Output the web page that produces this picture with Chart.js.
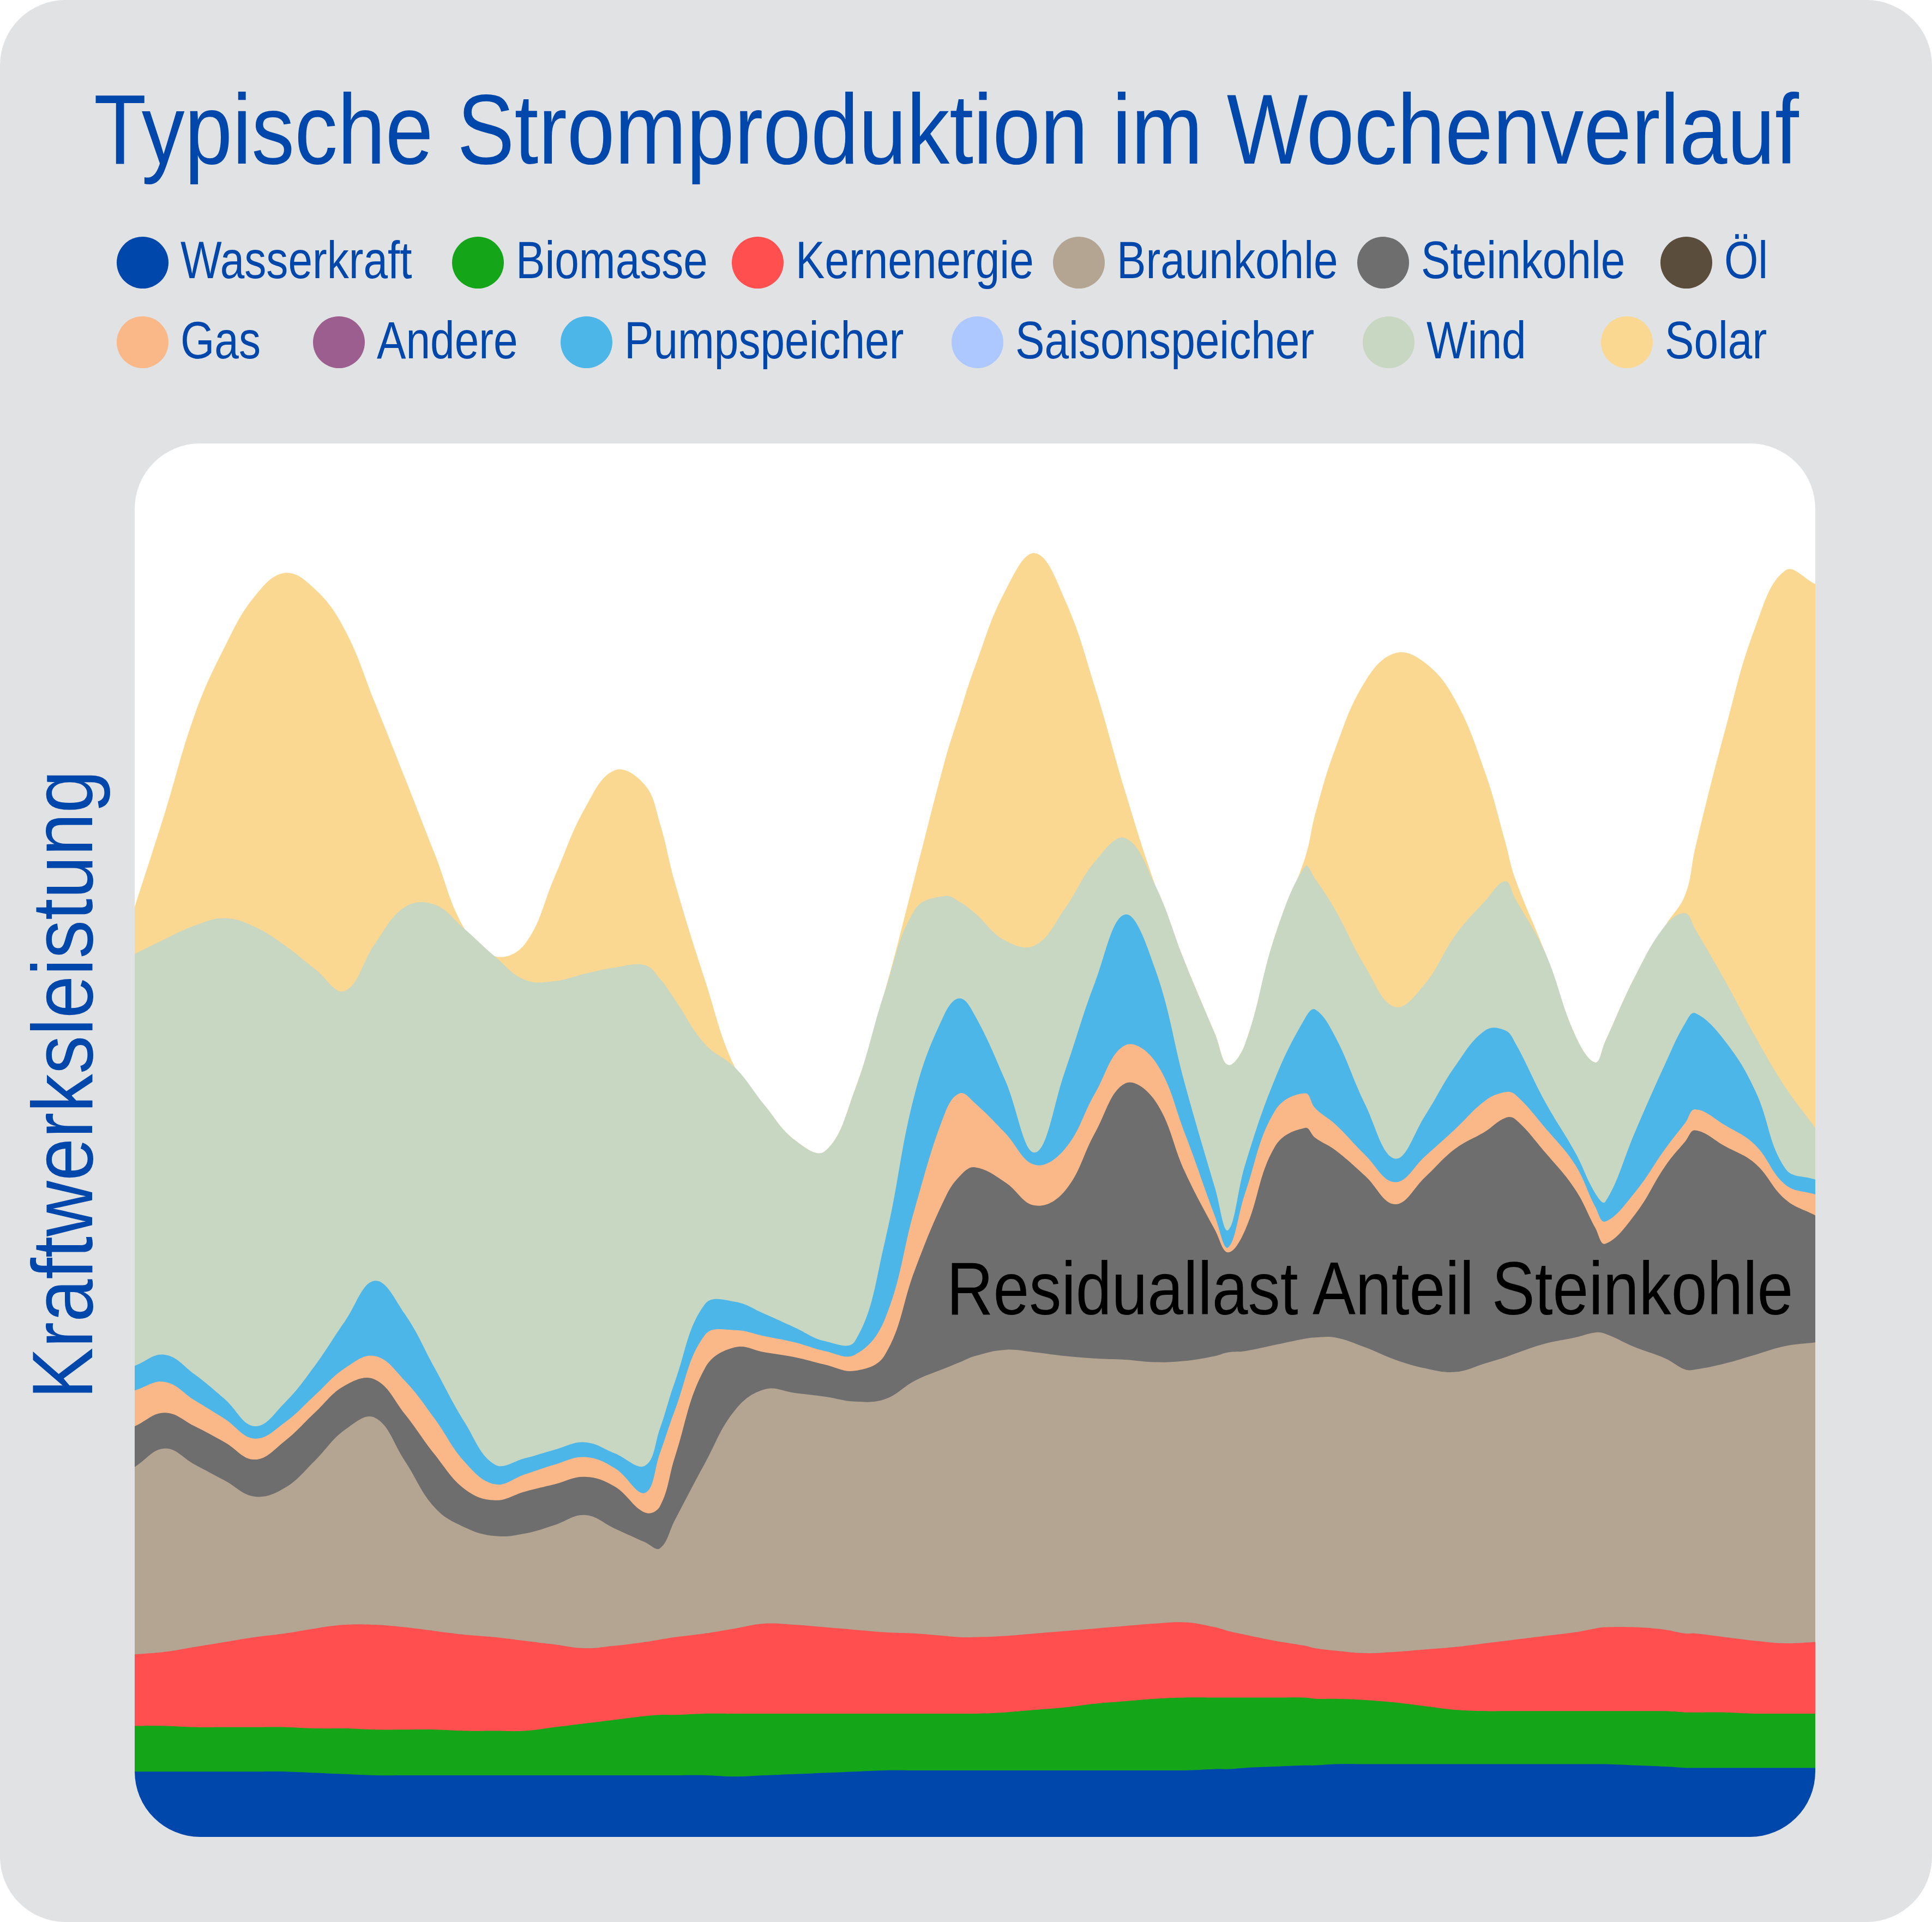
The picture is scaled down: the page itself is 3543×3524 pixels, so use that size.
<!DOCTYPE html>
<html>
<head>
<meta charset="utf-8">
<title>Typische Stromproduktion im Wochenverlauf</title>
<script src="https://cdn.jsdelivr.net/npm/chart.js@4.4.1/dist/chart.umd.min.js"></script>
<style>
  html, body { margin: 0; padding: 0; background: #ffffff; }
  #page {
    position: relative; width: 3543px; height: 3524px; overflow: hidden;
    background: #e1e2e4; border-radius: 120px;
    font-family: "Liberation Sans", Arial, sans-serif; color: #0047ab;
  }
  .txt { position: absolute; white-space: nowrap; line-height: 1; transform-origin: 0 0; }
  #title { left: 172px; top: 146px; font-size: 182px; }
  #ylabel { left: 36px; top: 2565px; font-size: 157px; }
  #panel {
    position: absolute; left: 247px; top: 813px; width: 3082px; height: 2555px;
    background: #ffffff; border-radius: 120px; overflow: hidden;
  }
  #note { left: 1736px; top: 2293px; font-size: 138px; color: #000000; }
  .dot { position: absolute; width: 95px; height: 95px; border-radius: 50%; }
  .lbl { font-size: 96px; transform: scaleX(0.835); }
</style>
</head>
<body>
<div id="page">
  <div id="title" class="txt">Typische Stromproduktion im Wochenverlauf</div>
  <div id="legend"></div>
  <div id="ylabel" class="txt">Kraftwerksleistung</div>
  <div id="panel"><canvas id="myChart"></canvas></div>
  <div id="note" class="txt">Residuallast Anteil Steinkohle</div>
</div>
<script>
// hour of the week for every sample
var hours = [0, 3, 6, 9, 12, 15, 18, 21, 24, 27,
  30, 33, 36, 39, 42, 45, 48, 51, 52.5, 54,
  57, 60, 63, 66, 69, 72, 75, 78, 81, 82.5,
  84, 87, 90, 93, 96, 99, 102, 105, 108, 109.3,
  111, 114, 117, 118, 120, 123, 126, 129, 132, 135,
  137, 138, 141, 144, 146, 147, 150, 153, 155, 156,
  159, 162, 165, 168];

// power per source (stacked from the bottom)
var wasserkraft = [5.3, 5.3, 5.3, 5.3, 5.3, 5.3, 5.2, 5.1, 5.0, 5.0,
  5.0, 5.0, 5.0, 5.0, 5.0, 5.0, 5.0, 5.0, 5.0, 5.0,
  5.0, 4.9, 5.0, 5.1, 5.2, 5.3, 5.4, 5.4, 5.4, 5.4,
  5.4, 5.4, 5.4, 5.4, 5.4, 5.4, 5.4, 5.4, 5.5, 5.5,
  5.6, 5.7, 5.8, 5.8, 5.9, 5.9, 5.9, 5.9, 5.9, 5.9,
  5.9, 5.9, 5.9, 5.9, 5.9, 5.9, 5.8, 5.7, 5.6, 5.6,
  5.6, 5.6, 5.6, 5.6];
var biomasse = [3.7, 3.7, 3.6, 3.6, 3.6, 3.6, 3.6, 3.7, 3.7, 3.7,
  3.7, 3.6, 3.6, 3.6, 3.9, 4.2, 4.5, 4.8, 4.9, 4.9,
  5.0, 5.1, 5.0, 4.9, 4.8, 4.7, 4.6, 4.6, 4.6, 4.6,
  4.6, 4.7, 4.9, 5.1, 5.4, 5.6, 5.8, 5.9, 5.8, 5.8,
  5.7, 5.6, 5.5, 5.4, 5.3, 5.2, 5.0, 4.7, 4.4, 4.3,
  4.3, 4.3, 4.3, 4.3, 4.3, 4.3, 4.4, 4.5, 4.5, 4.5,
  4.5, 4.4, 4.4, 4.4];
var kernenergie = [5.8, 6.0, 6.5, 6.9, 7.3, 7.6, 8.1, 8.4, 8.5, 8.3,
  8.0, 7.8, 7.6, 7.3, 6.7, 6.1, 6.0, 6.0, 6.1, 6.3,
  6.5, 6.9, 7.3, 7.2, 7.0, 6.8, 6.6, 6.5, 6.3, 6.2,
  6.2, 6.2, 6.2, 6.2, 6.1, 6.1, 6.1, 6.1, 5.7, 5.4,
  5.1, 4.6, 4.2, 4.1, 3.9, 3.8, 4.1, 4.6, 5.1, 5.5,
  5.7, 5.8, 6.1, 6.4, 6.7, 6.8, 6.8, 6.6, 6.4, 6.4,
  6.1, 5.9, 5.7, 5.8];
var braunkohle = [15.2, 16.5, 14.8, 13.1, 11.4, 11.8, 13.6, 15.8, 16.8, 13.5,
  10.0, 8.7, 8.2, 8.7, 9.7, 10.8, 9.5, 8.1, 7.4, 9.5,
  13.8, 17.7, 19.0, 18.8, 18.7, 18.5, 18.9, 20.5, 21.7, 22.3,
  22.8, 23.2, 22.8, 22.3, 21.9, 21.6, 21.2, 21.2, 22.0, 22.6,
  23.0, 24.0, 24.9, 25.2, 25.4, 24.8, 23.7, 22.8, 22.3, 22.7,
  23.0, 23.2, 23.7, 23.9, 24.0, 23.8, 22.7, 22.0, 21.4, 21.4,
  22.2, 23.2, 24.1, 24.3];
var steinkohle = [3.3, 2.9, 3.1, 3.1, 3.0, 3.8, 3.9, 3.6, 3.1, 3.8,
  4.3, 3.1, 2.9, 3.4, 3.3, 3.1, 3.4, 2.4, 3.4, 5.1,
  7.7, 5.1, 3.0, 2.9, 2.6, 2.5, 3.6, 9.0, 13.8, 15.1,
  15.3, 13.6, 11.9, 13.4, 18.3, 22.4, 21.2, 15.3, 10.2, 8.1,
  9.8, 16.1, 17.1, 16.2, 15.2, 13.9, 12.6, 15.5, 18.1, 18.8,
  19.4, 19.0, 15.5, 12.0, 8.5, 7.3, 10.8, 15.6, 18.5, 19.4,
  17.6, 15.5, 11.9, 10.3];
var oel = [0, 0, 0, 0, 0, 0, 0, 0, 0, 0,
  0, 0, 0, 0, 0, 0, 0, 0, 0, 0,
  0, 0, 0, 0, 0, 0, 0, 0, 0, 0,
  0, 0, 0, 0, 0, 0, 0, 0, 0, 0,
  0, 0, 0, 0, 0, 0, 0, 0, 0, 0,
  0, 0, 0, 0, 0, 0, 0, 0, 0, 0,
  0, 0, 0, 0];
var gas = [2.9, 2.5, 2.1, 1.9, 1.7, 1.5, 1.4, 1.4, 1.9, 2.7,
  2.9, 2.2, 1.3, 1.4, 1.6, 1.6, 1.5, 1.6, 4.3, 3.8,
  2.7, 1.4, 1.3, 1.2, 1.1, 1.3, 2.9, 5.0, 6.9, 6.7,
  5.2, 4.0, 3.3, 3.4, 3.2, 3.1, 3.2, 3.1, 1.1, 0.4,
  3.0, 2.9, 2.8, 2.4, 2.1, 1.7, 1.8, 1.7, 1.6, 2.5,
  2.1, 2.0, 2.0, 2.0, 1.7, 1.8, 1.8, 1.4, 1.5, 1.7,
  1.7, 1.5, 1.2, 1.7];
var andere = [0, 0, 0, 0, 0, 0, 0, 0, 0, 0,
  0, 0, 0, 0, 0, 0, 0, 0, 0, 0,
  0, 0, 0, 0, 0, 0, 0, 0, 0, 0,
  0, 0, 0, 0, 0, 0, 0, 0, 0, 0,
  0, 0, 0, 0, 0, 0, 0, 0, 0, 0,
  0, 0, 0, 0, 0, 0, 0, 0, 0, 0,
  0, 0, 0, 0];
var pumpspeicher = [2.0, 2.2, 2.1, 1.6, 1.0, 1.6, 2.4, 3.8, 6.1, 5.4,
  4.1, 3.2, 1.6, 1.3, 1.2, 1.2, 1.2, 2.2, 2.0, 2.3,
  2.5, 2.3, 1.8, 1.2, 0.8, 1.1, 6.3, 9.3, 8.1, 7.7,
  7.1, 4.3, 1.0, 6.3, 9.0, 10.6, 7.5, 4.0, 2.3, 1.4,
  2.3, 2.6, 6.1, 8.0, 7.1, 4.1, 1.9, 3.3, 5.1, 5.7,
  5.0, 4.2, 2.1, 1.0, 1.1, 1.6, 4.9, 6.9, 8.1, 7.8,
  6.8, 4.4, 1.3, 1.2];
var saisonspeicher = [0, 0, 0, 0, 0, 0, 0, 0, 0, 0,
  0, 0, 0, 0, 0, 0, 0, 0, 0, 0,
  0, 0, 0, 0, 0, 0, 0, 0, 0, 0,
  0, 0, 0, 0, 0, 0, 0, 0, 0, 0,
  0, 0, 0, 0, 0, 0, 0, 0, 0, 0,
  0, 0, 0, 0, 0, 0, 0, 0, 0, 0,
  0, 0, 0, 0];
var wind = [33.4, 33.7, 36.4, 39.0, 40.5, 37.1, 32.2, 26.8, 27.3, 33.0,
  37.6, 40.0, 41.2, 38.8, 38.0, 38.0, 39.4, 40.6, 36.5, 31.0,
  21.1, 19.0, 16.9, 15.2, 15.4, 20.4, 20.3, 14.9, 9.5, 7.8,
  8.3, 11.3, 16.8, 13.2, 9.8, 6.2, 6.8, 9.9, 12.5, 13.4,
  9.8, 11.6, 12.3, 10.6, 10.3, 11.2, 12.3, 10.7, 10.6, 10.5,
  12.1, 11.7, 12.1, 9.5, 10.6, 13.0, 12.6, 11.2, 8.9, 6.8,
  4.9, 4.4, 6.6, 4.2];
var solar = [3.8, 10.2, 17.1, 22.0, 26.8, 30.2, 30.8, 29.3, 19.6, 10.5,
  4.1, 0, 0, 2.9, 8.5, 13.4, 16.0, 14.6, 12.6, 9.5,
  5.2, 0, 0, 0, 0, 0, 0, 2.7, 11.0, 15.4,
  20.0, 28.3, 31.8, 25.0, 14.1, 3.8, 0, 0, 0, 0,
  0, 0, 0.7, 5.2, 13.0, 23.1, 28.7, 26.0, 19.1, 10.4,
  3.2, 1.6, 0, 0, 0, 0, 0, 0, 1.5, 6.6,
  20.4, 33.2, 41.9, 44.1];

var seriesNames = ["Wasserkraft", "Biomasse", "Kernenergie", "Braunkohle", "Steinkohle", "Öl",
  "Gas", "Andere", "Pumpspeicher", "Saisonspeicher", "Wind", "Solar"];

// on window load build legend and chart
window.onload = function () {
  var seriesData = [wasserkraft, biomasse, kernenergie, braunkohle, steinkohle, oel,
    gas, andere, pumpspeicher, saisonspeicher, wind, solar];
  var colors = ["#0047ab", "#15a519", "#ff4f4f", "#b4a592", "#6e6e6e", "#5a4d3c",
    "#fab888", "#9b5e8e", "#4db6e8", "#adc8ff", "#c8d7c2", "#fad891"];

  //legend: two rows of six, x = centre of the dot
  var legendX = [261, 876, 1389, 1978, 2536, 3092, 261, 621, 1075, 1792, 2546, 2983];
  var legend = document.getElementById("legend");
  for (var i = 0; i < seriesNames.length; i++) {
    var row = i < 6 ? 0 : 1;
    var dot = document.createElement("div");
    dot.className = "dot";
    dot.style.background = colors[i];
    dot.style.left = (legendX[i] - 47) + "px";
    dot.style.top = (row === 0 ? 434 : 580) + "px";
    legend.appendChild(dot);
    var lbl = document.createElement("div");
    lbl.className = "txt lbl";
    lbl.textContent = seriesNames[i];
    lbl.style.left = (legendX[i] + 70) + "px";
    lbl.style.top = (row === 0 ? 429 : 576) + "px";
    legend.appendChild(lbl);
  }

  //squeeze texts to the condensed width of the original
  function fit(id, target, extra) {
    var el = document.getElementById(id);
    var s = target / el.offsetWidth;
    el.style.transform = (extra || "") + "scaleX(" + s + ")";
  }
  fit("title", 3127);
  fit("note", 1552);
  fit("ylabel", 1153, "rotate(-90deg) ");

  //create datasets
  var datasets = [];
  for (var k = 0; k < seriesNames.length; k++) {
    var points = [];
    for (var j = 0; j < hours.length; j++) {
      points.push({ x: hours[j], y: seriesData[k][j] });
    }
    var empty = seriesData[k].every(function (v) { return v === 0; });
    datasets.push({
      label: seriesNames[k],
      data: points,
      backgroundColor: colors[k],
      borderColor: colors[k],
      borderWidth: 0,
      pointRadius: 0,
      fill: empty ? false : "origin",
      tension: 0.4,
    });
  }

  var ctx = document.getElementById("myChart").getContext("2d");
  var myChart = new Chart(ctx, {
    type: "line",
    data: { datasets: datasets },
    options: {
      animation: false,
      responsive: true,
      maintainAspectRatio: false,
      layout: { padding: 0 },
      plugins: {
        legend: { display: false },
        tooltip: { enabled: false },
      },
      scales: {
        x: { type: "linear", min: 0, max: 168, display: false },
        y: { stacked: true, min: 0, max: 113, display: false },
      },
    },
  });
};
</script>
</body>
</html>
